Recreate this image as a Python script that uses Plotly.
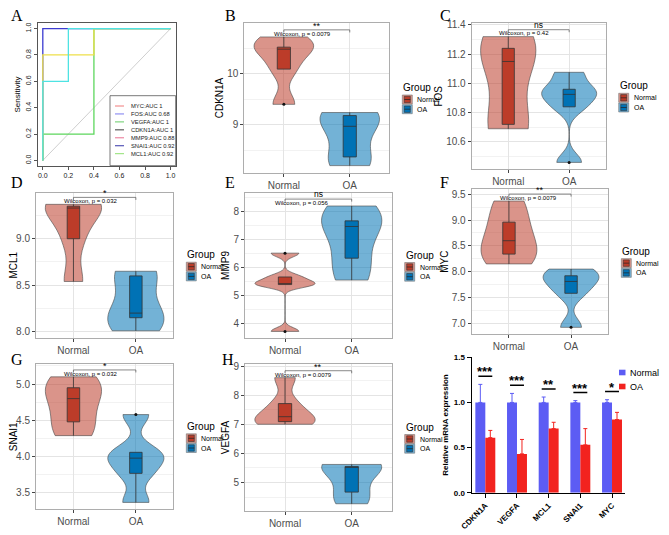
import numpy as np
import plotly.graph_objects as go

# the page body adds an 8px margin, so the figure is drawn 8px smaller and shifted
OFF = 8
W, H = 669 - OFF, 535 - OFF

# ---------------- data: panel A (ROC curves) ----------------
roc_auc1_fpr = [0.0, 0.0, 1.0]
roc_auc1_tpr = [0.0, 1.0, 1.0]
roc_fos_fpr = [0.0, 0.0, 0.4, 0.4, 1.0]
roc_fos_tpr = [0.0, 0.2, 0.2, 1.0, 1.0]
roc_snai1_fpr = [0.0, 0.0, 0.4, 0.4, 1.0]
roc_snai1_tpr = [0.0, 0.8, 0.8, 1.0, 1.0]
roc_mcl1_fpr = [0.0, 0.0, 0.2, 0.2, 1.0]
roc_mcl1_tpr = [0.0, 0.6, 0.6, 1.0, 1.0]
roc_chance = [0.0, 1.0]
roc_ticks = [0.0, 0.2, 0.4, 0.6, 0.8, 1.0]
roc_legend = ["MYC:AUC 1", "FOS:AUC 0.68", "VEGFA:AUC 1", "CDKN1A:AUC 1",
              "MMP9:AUC 0.88", "SNAI1:AUC 0.92", "MCL1:AUC 0.92"]

# ---------------- data: panels B-H (expression per sample) ----------------
groups = ["Normal", "OA"]
cdkn1a_normal = [9.40, 10.09, 10.48, 10.52, 10.72]
cdkn1a_oa = [8.20, 8.37, 8.97, 9.18, 9.24]
fos_normal = [10.69, 10.72, 11.15, 11.24, 11.32]
fos_oa = [10.46, 10.84, 10.925, 10.96, 11.076]
mcl1_normal = [8.54, 9.00, 9.33, 9.35, 9.37]
mcl1_oa = [8.01, 8.15, 8.20, 8.60, 8.65]
mmp9_normal = [3.73, 5.40, 5.43, 5.67, 6.52]
mmp9_oa = [5.56, 6.34, 7.47, 7.67, 8.20]
myc_normal = [8.15, 8.34, 8.60, 8.96, 9.37]
myc_oa = [6.92, 7.58, 7.81, 7.92, 8.05]
snai1_normal = [4.29, 4.48, 4.80, 4.95, 5.10]
snai1_oa = [3.37, 3.77, 3.98, 4.06, 4.58]
vegfa_normal = [7.00, 7.09, 7.26, 7.71, 8.60]
vegfa_oa = [4.27, 4.67, 5.52, 5.55, 5.62]
p_texts = ["Wilcoxon, p = 0.0079", "Wilcoxon, p = 0.42", "Wilcoxon, p = 0.032",
           "Wilcoxon, p = 0.056", "Wilcoxon, p = 0.0079", "Wilcoxon, p = 0.032",
           "Wilcoxon, p = 0.0079"]
sig_labels = ["**", "ns", "*", "ns", "**", "*", "**"]

# ---------------- data: panel I (qPCR) ----------------
bar_genes = ["CDKN1A", "VEGFA", "MCL1", "SNAI1", "MYC"]
bar_normal = [1.0, 1.0, 1.0, 1.0, 1.0]
bar_normal_err = [0.20, 0.10, 0.06, 0.02, 0.03]
bar_oa = [0.61, 0.43, 0.71, 0.53, 0.81]
bar_oa_err = [0.08, 0.16, 0.07, 0.18, 0.08]
bar_sig = ["***", "***", "**", "***", "*"]
bar_ticks = [0.0, 0.5, 1.0, 1.5]

# ---------------- styling ----------------
FONT = "Liberation Sans"
SERIF = "Liberation Serif"
NORMAL_DARK = "#BC3C29"
OA_DARK = "#0072B5"
NORMAL_LIGHT = "rgba(188,60,41,0.55)"
OA_LIGHT = "rgba(0,114,181,0.55)"
NORMAL_LEG = "#DA9489"
OA_LEG = "#73B1D6"
BAR_BLUE = "#5C5CF4"
BAR_RED = "#F2231F"
ROC_COLORS = ["#3B3BD0", "#5CD65C", "#EEE04A", "#4EE3E3"]
ROC_LEG_COLORS = ["#F07A7A", "#7C7CF0", "#66CC66", "#3A3A3A", "#E87090", "#3434A8", "#8FE070"]


def px(x):
    return (x - OFF) / W


def py(y):
    return 1 - (y - OFF) / H


def dom(r):
    return [px(r[0]), px(r[2])], [py(r[3]), py(r[1])]


def bw_nrd0(v):
    v = np.asarray(v, dtype=float)
    sd = np.std(v, ddof=1)
    q75, q25 = np.percentile(v, [75, 25])
    iqr = (q75 - q25) / 1.34
    lo = min(sd, iqr) if iqr > 0 else sd
    return 0.9 * lo * len(v) ** -0.2


fig = go.Figure()
layout = dict(width=W, height=H, margin=dict(l=0, r=0, t=0, b=0, pad=0, autoexpand=False),
              paper_bgcolor="white", plot_bgcolor="white", showlegend=False,
              violinmode="overlay", boxmode="overlay", barmode="group",
              bargap=0.37, bargroupgap=0.0, font=dict(family=FONT, color="black"))
shapes = []
annotations = []

# ---------------- Panel A ----------------
rectA = (37.7, 23.3, 175.7, 165.7)
dx, dy = dom(rectA)
fig.add_trace(go.Scatter(x=roc_chance, y=roc_chance, mode="lines",
                         line=dict(color="#CFCFCF", width=1), xaxis="x", yaxis="y", hoverinfo="skip"))
roc_curves = [(roc_auc1_fpr, roc_auc1_tpr), (roc_fos_fpr, roc_fos_tpr),
              (roc_snai1_fpr, roc_snai1_tpr), (roc_mcl1_fpr, roc_mcl1_tpr)]
for (fx, ty), col in zip(roc_curves, ROC_COLORS):
    fig.add_trace(go.Scatter(x=fx, y=ty, mode="lines", line=dict(color=col, width=1.3),
                             xaxis="x", yaxis="y", hoverinfo="skip"))
axA = dict(range=[-0.04, 1.04], tickvals=roc_ticks, ticktext=[f"{v:.1f}" for v in roc_ticks],
           showgrid=False, zeroline=False, showline=True, mirror=True, linecolor="#555",
           linewidth=0.8, ticks="outside", ticklen=3, tickcolor="#555", automargin=False,
           tickfont=dict(size=7, color="#222"))
layout["xaxis"] = dict(domain=dx, anchor="y", **axA)
layout["yaxis"] = dict(domain=dy, anchor="x", tickangle=-90,
                       title=dict(text="Sensitivity", font=dict(size=8), standoff=3), **axA)
# legend box of panel A
lb = (110.0, 95.7, 175.7, 165.7)
shapes.append(dict(type="rect", xref="paper", yref="paper", x0=px(lb[0]), x1=px(lb[2]),
                   y0=py(lb[3]), y1=py(lb[1]), line=dict(color="#555", width=0.8), fillcolor="white"))
for i, (lab, col) in enumerate(zip(roc_legend, ROC_LEG_COLORS)):
    yy = 106 + 7.95 * i
    shapes.append(dict(type="line", xref="paper", yref="paper", x0=px(115), x1=px(124),
                       y0=py(yy), y1=py(yy), line=dict(color=col, width=1)))
    annotations.append(dict(text=lab, x=px(128.5), y=py(yy), xref="paper", yref="paper",
                            xanchor="left", yanchor="middle", showarrow=False,
                            font=dict(size=5.8, color="#222")))

# ---------------- Panels B-H ----------------
# (letter, gene, normal, oa, plot rect in px, tick step, tick format, top padding fraction)
violin_panels = [
    ("B", "CDKN1A", cdkn1a_normal, cdkn1a_oa, (244.3, 23.3, 389.3, 172.7), 1.0, "d", 0.106),
    ("C", "FOS", fos_normal, fos_oa, (471.7, 23.3, 605.7, 169.3), 0.2, ".1f", 0.106),
    ("D", "MCL1", mcl1_normal, mcl1_oa, (36.0, 192.7, 173.3, 337.7), 0.5, ".1f", 0.092),
    ("E", "MMP9", mmp9_normal, mmp9_oa, (245.0, 192.7, 391.7, 338.3), 1.0, "d", 0.106),
    ("F", "MYC", myc_normal, myc_oa, (471.7, 189.0, 608.3, 334.3), 0.5, ".1f", 0.095),
    ("G", "SNAI1", snai1_normal, snai1_oa, (36.0, 364.3, 173.3, 509.3), 0.5, ".1f", 0.1),
    ("H", "VEGFA", vegfa_normal, vegfa_oa, (245.0, 364.3, 391.7, 510.7), 1.0, "d", 0.106),
]

for k, (letter, gene, nv, ov, rect, dtk, tfmt, tpad) in enumerate(violin_panels, start=2):
    xa, ya = f"x{k}", f"y{k}"
    dx, dy = dom(rect)
    allv = np.array(nv + ov)
    ymax, ymin = allv.max(), allv.min()
    rng = ymax - ymin
    for g, vals, light, dark in [("Normal", nv, NORMAL_LIGHT, NORMAL_DARK),
                                 ("OA", ov, OA_LIGHT, OA_DARK)]:
        fig.add_trace(go.Violin(x=[g] * len(vals), y=vals, name=g, xaxis=xa, yaxis=ya,
                                fillcolor=light, line=dict(color="rgba(70,70,70,0.85)", width=0.7),
                                width=0.9, bandwidth=bw_nrd0(vals), spanmode="hard",
                                points=False, scalegroup=letter, scalemode="count",
                                box_visible=False, meanline_visible=False, hoverinfo="skip"))
        fig.add_trace(go.Box(x=[g] * len(vals), y=vals, name=g, xaxis=xa, yaxis=ya,
                             fillcolor=dark, line=dict(color="#333333", width=0.8),
                             width=0.2, whiskerwidth=0, boxpoints="outliers",
                             quartilemethod="inclusive", pointpos=0, jitter=0,
                             marker=dict(color="#111111", size=3), hoverinfo="skip"))
    layout[f"xaxis{k}"] = dict(domain=dx, anchor=ya, type="category", categoryorder="array",
                               categoryarray=groups, range=[-0.6, 1.6], showgrid=True,
                               gridcolor="#E4E4E4", gridwidth=0.8, zeroline=False, showline=True,
                               mirror=True, linecolor="#ADADAD", linewidth=1, ticks="outside",
                               ticklen=3, tickcolor="#444", automargin=False,
                               tickfont=dict(size=10, color="#4D4D4D"))
    layout[f"yaxis{k}"] = dict(domain=dy, anchor=xa, range=[ymin - 0.055 * rng, ymax + tpad * rng],
                               dtick=dtk, tick0=0, tickformat=tfmt, showgrid=True, gridcolor="#E4E4E4",
                               gridwidth=0.8, minor=dict(dtick=dtk / 2, tick0=0, showgrid=True,
                                                         gridcolor="#F2F2F2", gridwidth=0.6),
                               zeroline=False, showline=True, mirror=True, linecolor="#ADADAD",
                               linewidth=1, ticks="outside", ticklen=3, tickcolor="#444",
                               automargin=False, tickfont=dict(size=10, color="#4D4D4D"),
                               title=dict(text=gene, font=dict(size=10, color="black"), standoff=1))
    # significance bracket
    yb = ymax + 0.055 * rng
    tip = 0.02 * rng
    for (x0, y0, x1, y1) in [(0, yb, 1, yb), (0, yb, 0, yb - tip), (1, yb, 1, yb - tip)]:
        shapes.append(dict(type="line", xref=xa, yref=ya, x0=x0, y0=y0, x1=x1, y1=y1,
                           line=dict(color="#555", width=0.7)))
    sig = sig_labels[k - 2]
    annotations.append(dict(text=sig, x=0.5, y=yb, xref=xa, yref=ya, xanchor="center",
                            yanchor="bottom", showarrow=False, yshift=(-2 if sig == "ns" else -3),
                            font=dict(size=9 if sig != "ns" else 8.5, color="black")))
    annotations.append(dict(text=p_texts[k - 2], x=-0.18, y=ymax + 0.025 * rng, xref=xa, yref=ya,
                            xanchor="left", yanchor="middle", showarrow=False,
                            font=dict(size=6, color="black")))
    # Group legend
    lx = rect[2] + 13
    cy = (rect[1] + rect[3]) / 2
    annotations.append(dict(text="Group", x=px(lx - 1), y=py(cy - 10.5), xref="paper", yref="paper",
                            xanchor="left", yanchor="middle", showarrow=False,
                            font=dict(size=10, color="black")))
    for j, (g, light, dark) in enumerate([("Normal", NORMAL_LEG, NORMAL_DARK), ("OA", OA_LEG, OA_DARK)]):
        yc = cy + 1.5 + 9.7 * j
        shapes.append(dict(type="rect", xref="paper", yref="paper", x0=px(lx), x1=px(lx + 10),
                           y0=py(yc + 4.5), y1=py(yc - 4.5), fillcolor=light,
                           line=dict(color="#777", width=0.6)))
        shapes.append(dict(type="rect", xref="paper", yref="paper", x0=px(lx + 2), x1=px(lx + 8),
                           y0=py(yc + 3.2), y1=py(yc - 3.2), fillcolor=dark,
                           line=dict(color="#333", width=0.6)))
        shapes.append(dict(type="line", xref="paper", yref="paper", x0=px(lx + 2), x1=px(lx + 8),
                           y0=py(yc), y1=py(yc), line=dict(color="#222", width=0.7)))
        annotations.append(dict(text=g, x=px(lx + 13), y=py(yc), xref="paper", yref="paper",
                                xanchor="left", yanchor="middle", showarrow=False,
                                font=dict(size=7, color="black")))

# ---------------- Panel I ----------------
rectI = (471.7, 357.3, 625.0, 492.7)
dx, dy = dom(rectI)
fig.add_trace(go.Bar(x=bar_genes, y=bar_normal, name="Normal", marker=dict(color=BAR_BLUE, line=dict(width=0)),
                     error_y=dict(type="data", array=bar_normal_err, arrayminus=[0] * len(bar_genes),
                                  symmetric=False, color=BAR_BLUE, thickness=1, width=2),
                     xaxis="x9", yaxis="y9", hoverinfo="skip"))
fig.add_trace(go.Bar(x=bar_genes, y=bar_oa, name="OA", marker=dict(color=BAR_RED, line=dict(width=0)),
                     error_y=dict(type="data", array=bar_oa_err, arrayminus=[0] * len(bar_genes),
                                  symmetric=False, color=BAR_RED, thickness=1, width=2),
                     xaxis="x9", yaxis="y9", hoverinfo="skip"))
bold8 = dict(size=8, color="black", weight="bold")
layout["xaxis9"] = dict(domain=dx, anchor="y9", type="category", categoryorder="array",
                        categoryarray=bar_genes, range=[-0.43, 4.41], showgrid=False, zeroline=False,
                        showline=True, linecolor="black", linewidth=1.3, ticks="outside", ticklen=4,
                        tickwidth=1.2, tickcolor="black", tickangle=-45, tickfont=bold8,
                        automargin=False)
layout["yaxis9"] = dict(domain=dy, anchor="x9", range=[0, 1.5], tickvals=bar_ticks,
                        ticktext=[f"{v:.1f}" for v in bar_ticks], showgrid=False, zeroline=False,
                        showline=True, linecolor="black", linewidth=1.3, ticks="outside", ticklen=4,
                        tickwidth=1.2, tickcolor="black", tickfont=bold8, automargin=False,
                        title=dict(text="Relative mRNA expression", font=bold8, standoff=4))
for i, s in enumerate(bar_sig):
    top = max(bar_normal[i] + bar_normal_err[i], bar_oa[i] + bar_oa_err[i])
    yl = top + 0.09
    shapes.append(dict(type="line", xref="x9", yref="y9", x0=i - 0.22, x1=i + 0.22, y0=yl, y1=yl,
                       line=dict(color="black", width=1.5)))
    annotations.append(dict(text=s, x=i, y=yl, xref="x9", yref="y9", xanchor="center", yanchor="bottom",
                            showarrow=False, yshift=-5, font=dict(size=13, color="black", weight="bold")))
for j, (g, col) in enumerate([("Normal", BAR_BLUE), ("OA", BAR_RED)]):
    yc = 372.5 + 14 * j
    shapes.append(dict(type="rect", xref="paper", yref="paper", x0=px(619), x1=px(625.5),
                       y0=py(yc + 2.8), y1=py(yc - 2.8), fillcolor=col, line=dict(width=0)))
    annotations.append(dict(text=g, x=px(627.5), y=py(yc), xref="paper", yref="paper", xanchor="left",
                            yanchor="middle", showarrow=False, font=dict(size=9, color="black")))

# ---------------- panel letters ----------------
letter_pos = [(8.5, 15, "left"), (230, 15, "center"), (445, 15, "center"), (8.5, 182, "left"),
              (230, 182, "center"), (444, 182, "center"), (8.5, 359, "left"), (228, 359, "center")]
for lt, (lx_, ly_, anc) in zip("ABCDEFGH", letter_pos):
    annotations.append(dict(text=lt, x=px(lx_), y=py(ly_), xref="paper", yref="paper",
                            xanchor=anc, yanchor="middle", showarrow=False,
                            font=dict(size=16, family=SERIF, color="black")))

layout["shapes"] = shapes
layout["annotations"] = annotations
fig.update_layout(**layout)
fig.write_html("out.html")
